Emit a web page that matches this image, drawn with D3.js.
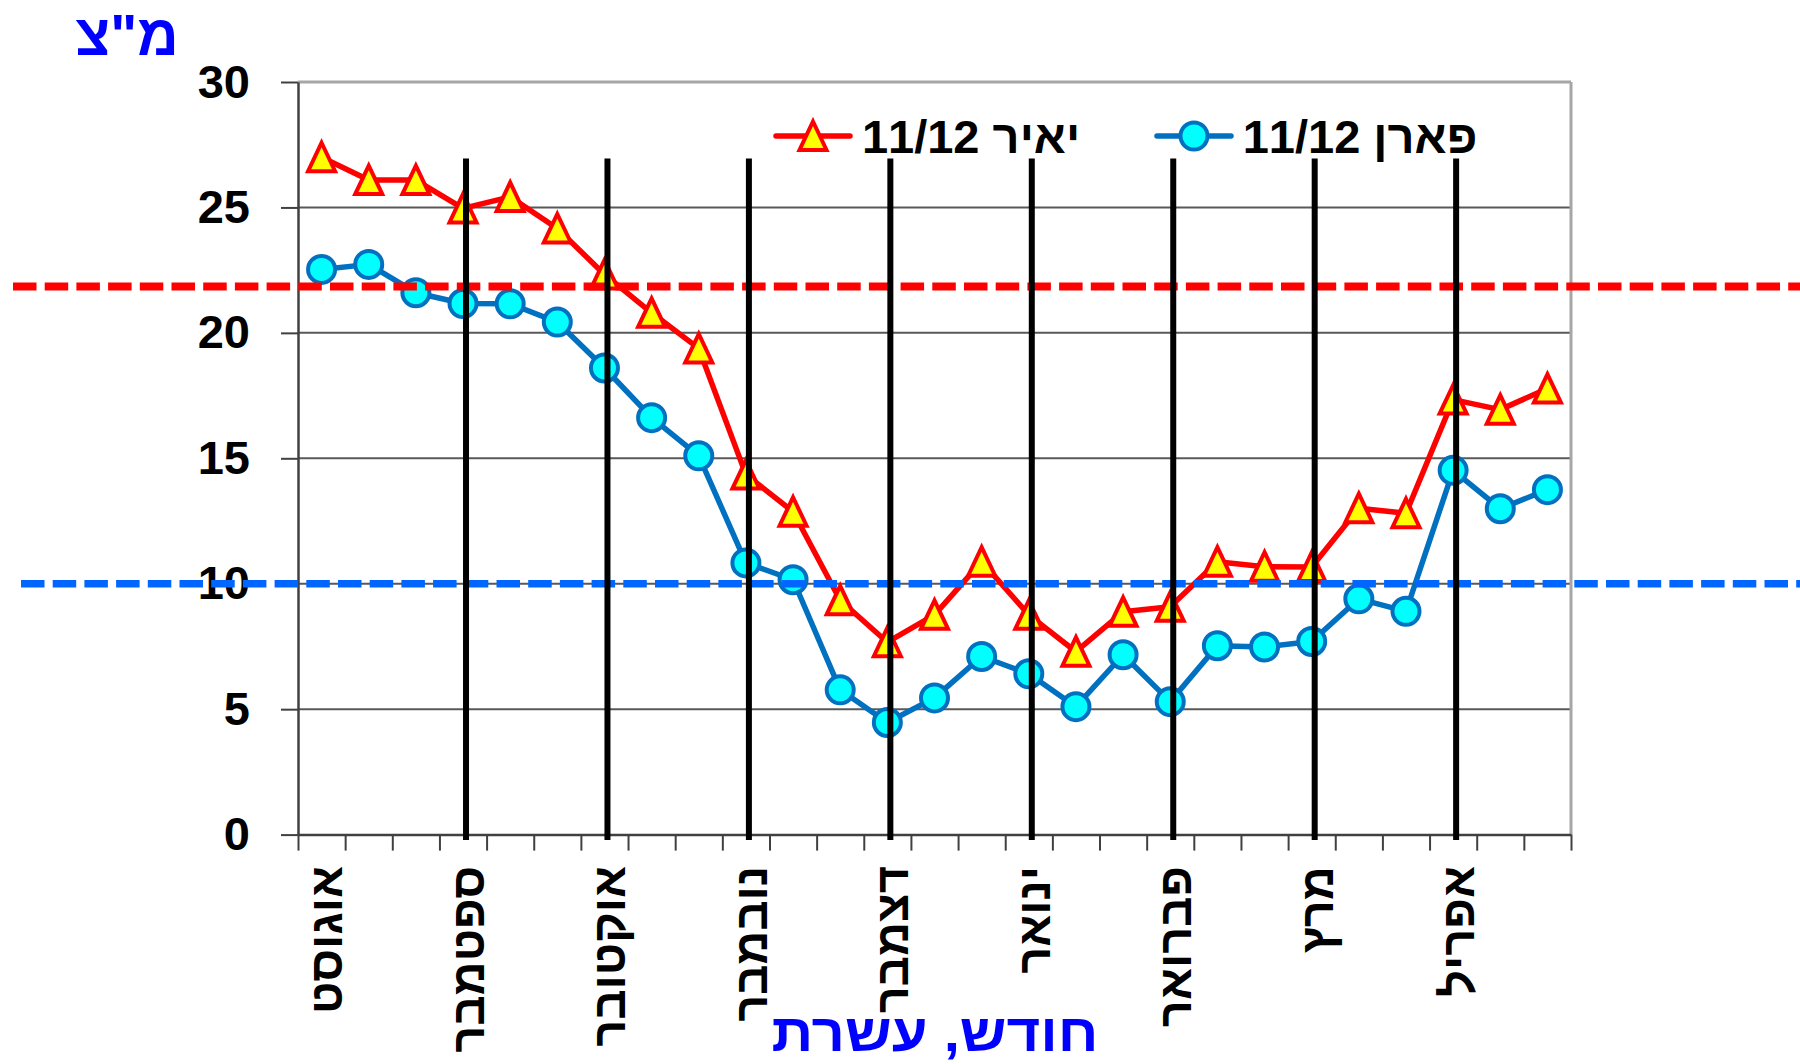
<!DOCTYPE html>
<html><head><meta charset="utf-8">
<script src="https://cdn.jsdelivr.net/npm/d3@7"></script>
<style>html,body{margin:0;padding:0;background:#fff;} svg{display:block}</style>
</head><body>
<svg id="chart" width="1800" height="1064"></svg>
<script>
// ---- data ----
const monthLabels = ["אוגוסט","ספטמבר","אוקטובר","נובמבר","דצמבר","ינואר","פברואר","מרץ","אפריל"];
const categories = [
  "אוגוסט 1","אוגוסט 2","אוגוסט 3",
  "ספטמבר 1","ספטמבר 2","ספטמבר 3",
  "אוקטובר 1","אוקטובר 2","אוקטובר 3",
  "נובמבר 1","נובמבר 2","נובמבר 3",
  "דצמבר 1","דצמבר 2","דצמבר 3",
  "ינואר 1","ינואר 2","ינואר 3",
  "פברואר 1","פברואר 2","פברואר 3",
  "מרץ 1","מרץ 2","מרץ 3",
  "אפריל 1","אפריל 2","אפריל 3"
];
const yairValues = [27.0, 26.09, 26.09, 24.96, 25.42, 24.16, 22.33, 20.8, 19.38,
  14.35, 12.87, 9.34, 7.67, 8.76, 10.88, 8.76, 7.29, 8.88, 9.08,
  10.88, 10.68, 10.67, 13.01, 12.81, 17.34, 16.94, 17.78];
const paranValues = [22.53, 22.73, 21.6, 21.17, 21.16, 20.43, 18.6, 16.62, 15.1,
  10.83, 10.16, 5.77, 4.47, 5.45, 7.1, 6.41, 5.1, 7.17, 5.3,
  7.53, 7.48, 7.7, 9.4, 8.9, 14.52, 12.99, 13.75];
const seriesNames = ["יאיר 11/12", "פארן 11/12"];
const yTicks = [0, 5, 10, 15, 20, 25, 30];
const monthLabelCategories = ["אוגוסט 1","ספטמבר 1","אוקטובר 1","נובמבר 1","דצמבר 1","ינואר 1","פברואר 1","מרץ 1","אפריל 1"];
const monthDividerCategories = ["ספטמבר 1","אוקטובר 1","נובמבר 1","דצמבר 1","ינואר 1","פברואר 1","מרץ 1","אפריל 1"];
const yTitle = 'מ"צ';
const xTitle = "חודש, עשרת";
const redThreshold = 21.85;
const blueThreshold = 10;

// ---- layout ----
const W = 1800, H = 1064;
const plotLeft = 298, plotRight = 1571, plotTop = 82, plotBottom = 834.6;
const FONT = "'Liberation Sans', Arial, sans-serif";

const svg = d3.select("#chart");
svg.append("rect").attr("width", W).attr("height", H).attr("fill", "#fff");

const x = d3.scaleBand().domain(categories).range([plotLeft, plotRight]).padding(0);
const cx = c => x(c) + x.bandwidth() / 2;
const y = d3.scaleLinear().domain([0, 30]).range([plotBottom, plotTop]);
const xi = d3.scaleLinear().domain([0, categories.length]).range([plotLeft, plotRight]);

// gridlines
svg.append("g").selectAll("line").data(yTicks.filter(v => v > 0 && v < 30)).join("line")
  .attr("x1", plotLeft).attr("x2", plotRight).attr("y1", d => y(d)).attr("y2", d => y(d))
  .attr("stroke", "#595959").attr("stroke-width", 2);
// top + right border
svg.append("line").attr("x1", plotLeft).attr("x2", plotRight).attr("y1", y(30)).attr("y2", y(30))
  .attr("stroke", "#a6a6a6").attr("stroke-width", 3);
svg.append("line").attr("x1", plotRight).attr("x2", plotRight).attr("y1", y(30)).attr("y2", y(0))
  .attr("stroke", "#a6a6a6").attr("stroke-width", 3);

// y axis
const gy = svg.append("g").attr("transform", `translate(${plotLeft},0)`)
  .call(d3.axisLeft(y).tickValues(yTicks).tickSize(17).tickSizeOuter(0).tickPadding(31).tickFormat(d3.format("d")));
gy.select(".domain").attr("stroke", "#404040").attr("stroke-width", 2.5);
gy.selectAll(".tick line").attr("stroke", "#404040").attr("stroke-width", 2);
gy.selectAll(".tick text").attr("font-family", FONT).attr("font-weight", "bold")
  .attr("font-size", 47).attr("fill", "#000");

// x axis (category boundaries)
const gx = svg.append("g").attr("transform", `translate(0,${plotBottom})`)
  .call(d3.axisBottom(xi).tickValues(d3.range(categories.length + 1)).tickSize(16).tickSizeOuter(0).tickFormat(""));
gx.select(".domain").attr("stroke", "#404040").attr("stroke-width", 2.5);
gx.selectAll(".tick line").attr("stroke", "#404040").attr("stroke-width", 2);

// month labels
svg.append("g").selectAll("text").data(monthLabelCategories).join("text")
  .attr("transform", (d) => `translate(${cx(d) + 4},866) rotate(-90)`)
  .attr("text-anchor", "end").attr("dy", "0.36em")
  .attr("font-family", FONT).attr("font-weight", "bold").attr("font-size", 47).attr("fill", "#000")
  .text((d, i) => monthLabels[i]);

// series
const line = d3.line().x((d, i) => cx(categories[i])).y(d => y(d));
const triPath = "M0,-14.5L13.5,14L-13.5,14Z";

svg.append("path").datum(paranValues).attr("d", line)
  .attr("fill", "none").attr("stroke", "#0070C0").attr("stroke-width", 5.5).attr("stroke-linejoin", "round");
svg.append("path").datum(yairValues).attr("d", line)
  .attr("fill", "none").attr("stroke", "#FF0000").attr("stroke-width", 5.5).attr("stroke-linejoin", "round");

svg.append("g").selectAll("circle").data(paranValues).join("circle")
  .attr("cx", (d, i) => cx(categories[i])).attr("cy", d => y(d)).attr("r", 13.5)
  .attr("fill", "#00FFFF").attr("stroke", "#0070C0").attr("stroke-width", 4);
svg.append("g").selectAll("path").data(yairValues).join("path")
  .attr("d", triPath)
  .attr("transform", (d, i) => `translate(${cx(categories[i])},${y(d)})`)
  .attr("fill", "#FFFF00").attr("stroke", "#FF0000").attr("stroke-width", 4);

// dashed threshold lines
svg.append("line").attr("x1", 13).attr("x2", W).attr("y1", y(redThreshold)).attr("y2", y(redThreshold))
  .attr("stroke", "#FF0000").attr("stroke-width", 8).attr("stroke-dasharray", "23.5,8.2");
svg.append("line").attr("x1", 21).attr("x2", W).attr("y1", y(blueThreshold)).attr("y2", y(blueThreshold))
  .attr("stroke", "#0066FF").attr("stroke-width", 7.5).attr("stroke-dasharray", "23.5,8.2");

// month divider lines
svg.append("g").selectAll("line").data(monthDividerCategories).join("line")
  .attr("x1", d => cx(d) + 3).attr("x2", d => cx(d) + 3)
  .attr("y1", y(26.95)).attr("y2", y(-0.22))
  .attr("stroke", "#000").attr("stroke-width", 6);

// legend
const legendItems = [
  {name: seriesNames[0], x0: 776, x1: 850, mx: 813, tx: 971, color: "#FF0000", fill: "#FFFF00", shape: "tri"},
  {name: seriesNames[1], x0: 1157, x1: 1231, mx: 1194, tx: 1360, color: "#0070C0", fill: "#00FFFF", shape: "circ"}
];
const lg = svg.append("g");
legendItems.forEach(it => {
  lg.append("line").attr("x1", it.x0).attr("x2", it.x1).attr("y1", 136).attr("y2", 136)
    .attr("stroke", it.color).attr("stroke-width", 5.5).attr("stroke-linecap", "round");
  if (it.shape === "tri") {
    lg.append("path").attr("d", triPath).attr("transform", `translate(${it.mx},136)`)
      .attr("fill", it.fill).attr("stroke", it.color).attr("stroke-width", 4);
  } else {
    lg.append("circle").attr("cx", it.mx).attr("cy", 136).attr("r", 13.5)
      .attr("fill", it.fill).attr("stroke", it.color).attr("stroke-width", 4);
  }
  lg.append("text").attr("x", it.tx).attr("y", 153).attr("direction", "rtl")
    .attr("text-anchor", "middle").attr("font-family", FONT).attr("font-weight", "bold")
    .attr("font-size", 47).attr("fill", "#000").text(it.name);
});

// titles
svg.append("text").attr("x", 127).attr("y", 55).attr("text-anchor", "middle").attr("direction", "rtl")
  .attr("font-family", FONT).attr("font-weight", "bold").attr("font-size", 57).attr("fill", "#0000FF")
  .attr("textLength", 103).attr("lengthAdjust", "spacingAndGlyphs")
  .text(yTitle);
svg.append("text").attr("x", 935).attr("y", 1051).attr("text-anchor", "middle").attr("direction", "rtl")
  .attr("font-family", FONT).attr("font-weight", "bold").attr("font-size", 53).attr("fill", "#0000FF")
  .attr("textLength", 327).attr("lengthAdjust", "spacingAndGlyphs")
  .text(xTitle);
</script>
</body></html>
